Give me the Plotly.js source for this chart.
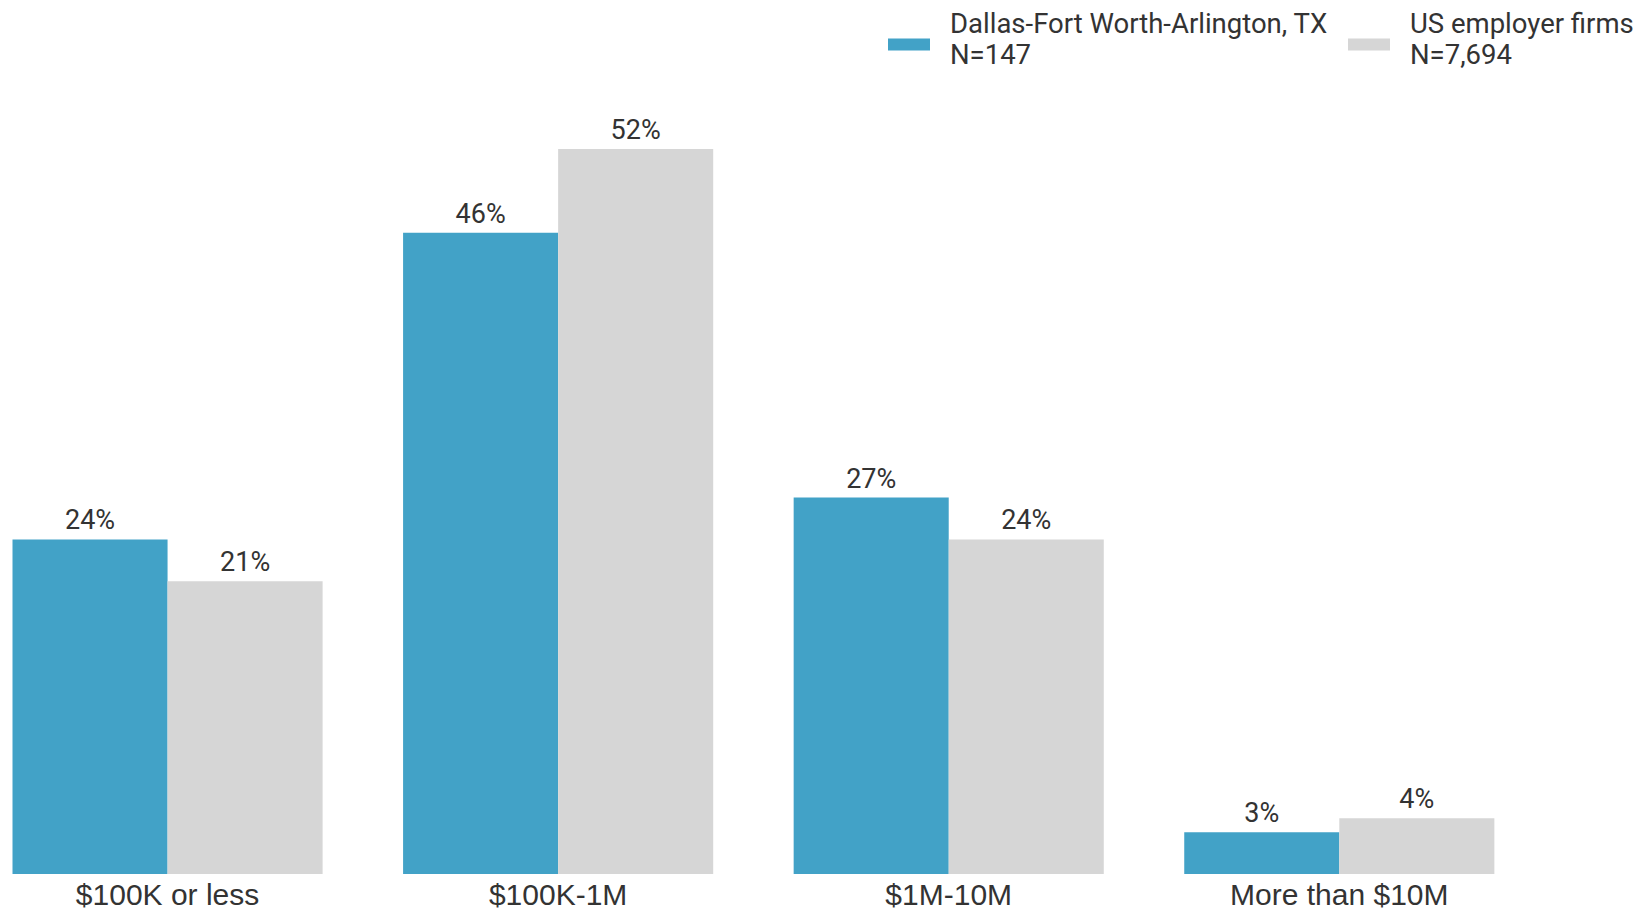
<!DOCTYPE html>
<html>
<head>
<meta charset="utf-8">
<script src="https://cdn.plot.ly/plotly-3.0.1.min.js"></script>
<style>html,body{margin:0;padding:0;background:#fff;}#chart{width:1642px;height:913px;}</style>
</head>
<body>
<div id="chart"></div>
<script>
const categories = ["$100K or less", "$100K-1M", "$1M-10M", "More than $10M"];
const dallasValues = [24, 46, 27, 3];
const usValues = [21, 52, 24, 4];
const seriesNames = ["Dallas-Fort Worth-Arlington, TX", "US employer firms"];
const seriesN = ["N=147", "N=7,694"];
const colors = ["#42A2C7", "#D6D6D6"];

const fmt = v => v + "%";
const traces = [dallasValues, usValues].map((vals, i) => ({
  type: "bar",
  x: categories,
  y: vals,
  name: seriesNames[i],
  text: vals.map(fmt),
  textposition: "outside",
  cliponaxis: false,
  textfont: {family: "Roboto, sans-serif", size: 27, color: "#333333"},
  marker: {color: colors[i], line: {width: 0}},
  hoverinfo: "skip"
}));

const W = 1642, H = 913, T = 100, B = 39;
const plotH = H - T - B;
const py = y => (H - B - y) / plotH;
const px = x => x / W;

const shapes = [];
const annotations = [];
const legendX = [888, 1348];
const legendFont = {family: "Roboto, sans-serif", size: 27.5, color: "#333333"};
legendX.forEach((x0, i) => {
  shapes.push({type: "rect", xref: "paper", yref: "paper",
    x0: px(x0), x1: px(x0 + 42), y0: py(50.5), y1: py(38.5),
    fillcolor: colors[i], line: {width: 0}});
  [seriesNames[i], seriesN[i]].forEach((t, j) => {
    annotations.push({xref: "paper", yref: "paper", x: px(x0 + 60), y: py(j === 0 ? 23.5 : 55),
      xanchor: "left", yanchor: "middle", align: "left", showarrow: false,
      text: t, font: legendFont});
  });
});

const layout = {
  width: W, height: H,
  margin: {l: 0, r: 0, t: T, b: B, pad: 0},
  paper_bgcolor: "#ffffff", plot_bgcolor: "#ffffff",
  barmode: "group", bargap: 0.206, bargroupgap: 0,
  showlegend: false,
  xaxis: {type: "category", range: [-0.429, 3.775], showgrid: false, zeroline: false,
    showline: false, ticks: "", ticklabelstandoff: 0,
    tickfont: {family: "'Liberation Sans', Arial, sans-serif", size: 30, color: "#333333"}},
  yaxis: {range: [0, plotH / 13.94], visible: false, showgrid: false, zeroline: false},
  shapes: shapes,
  annotations: annotations,
  font: {family: "Roboto, sans-serif"}
};

Plotly.newPlot("chart", traces, layout, {staticPlot: true, displayModeBar: false});
</script>
</body>
</html>
